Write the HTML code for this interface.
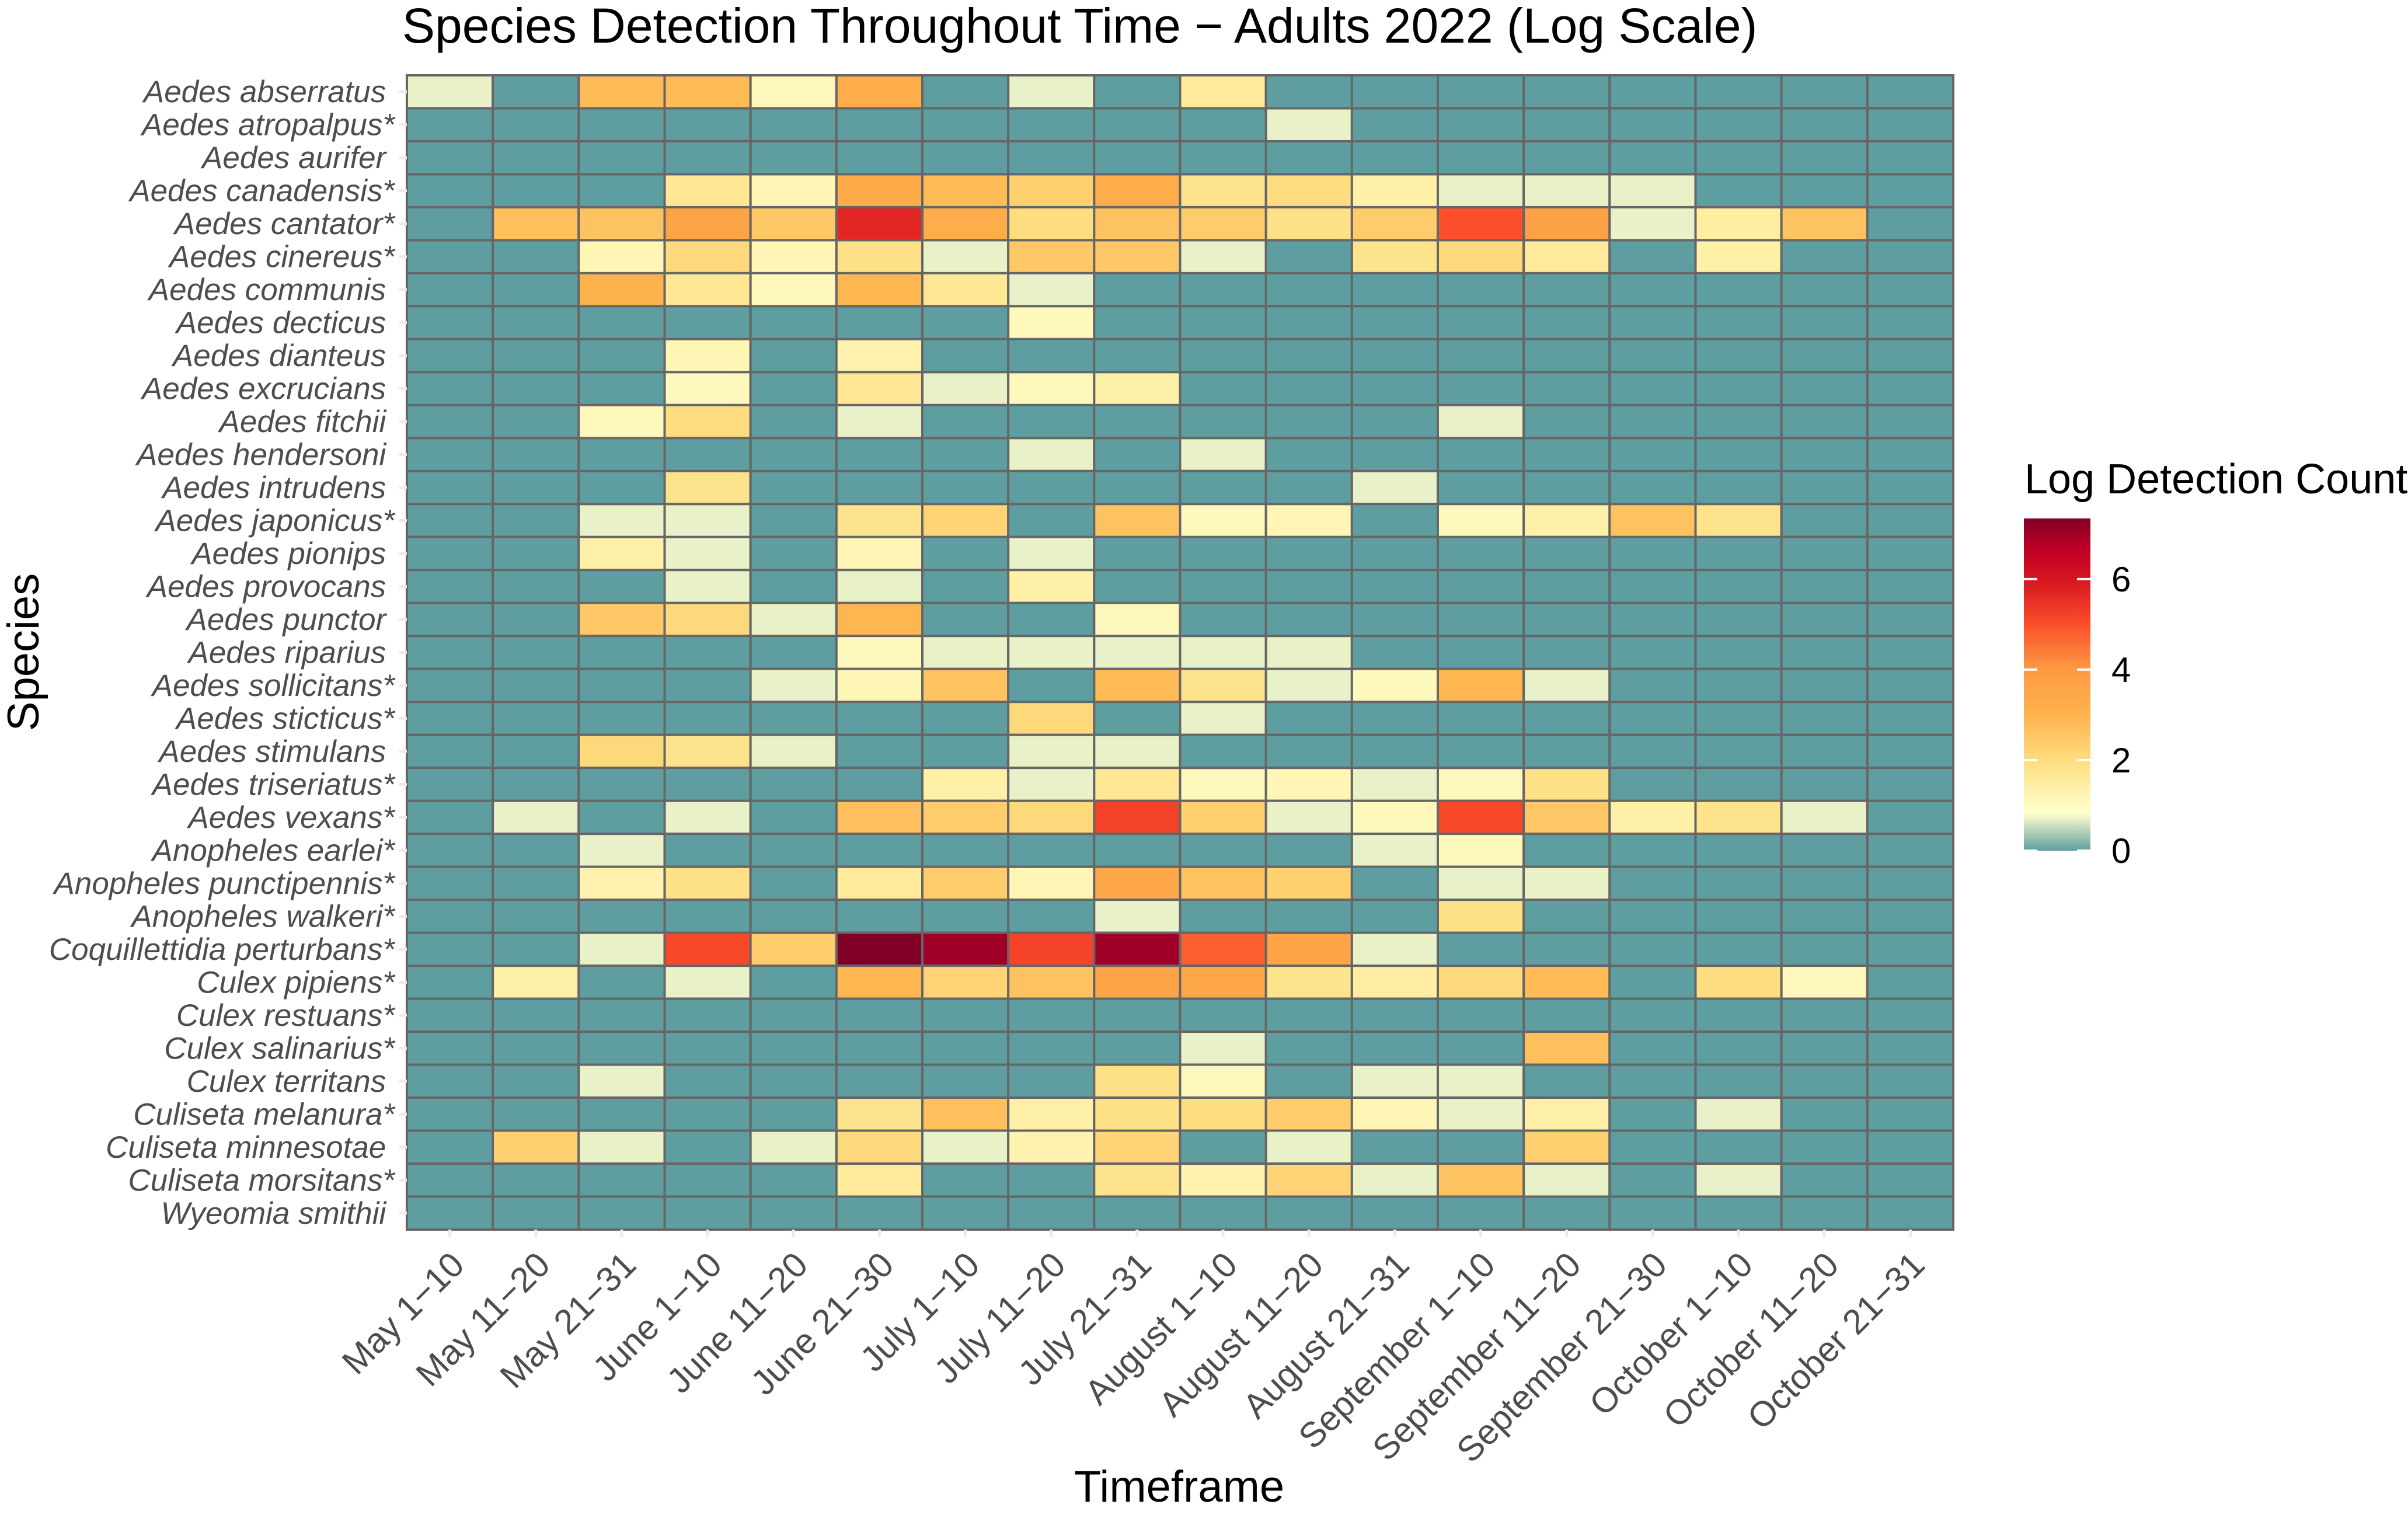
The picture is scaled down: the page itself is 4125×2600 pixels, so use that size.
<!DOCTYPE html>
<html><head><meta charset="utf-8"><style>
html,body{margin:0;padding:0;background:#fff;}
svg{display:block;font-family:"Liberation Sans",Arial,sans-serif;}
</style></head><body>
<svg id="chart" width="4125" height="2600" viewBox="0 0 4125 2600" xmlns="http://www.w3.org/2000/svg">
<rect width="4125" height="2600" fill="#fff"/>
<text x="689" y="73" font-size="84" fill="#000">Species Detection Throughout Time − Adults 2022 (Log Scale)</text>
<text x="2020" y="2572" font-size="76" text-anchor="middle" fill="#000">Timeframe</text>
<text transform="translate(66,1117) rotate(-90)" font-size="76" text-anchor="middle" fill="#000">Species</text>
<g id="cells"></g>
<g id="ylabels"></g>
<g id="xlabels"></g>
<g id="legend">
<text x="3468" y="845" font-size="72" fill="#000">Log Detection Count</text>
</g>
</svg>
<script>
const timeframes = ["May 1\u221210","May 11\u221220","May 21\u221231","June 1\u221210","June 11\u221220","June 21\u221230","July 1\u221210","July 11\u221220","July 21\u221231","August 1\u221210","August 11\u221220","August 21\u221231","September 1\u221210","September 11\u221220","September 21\u221230","October 1\u221210","October 11\u221220","October 21\u221231"];
const species = ["Aedes abserratus","Aedes atropalpus*","Aedes aurifer","Aedes canadensis*","Aedes cantator*","Aedes cinereus*","Aedes communis","Aedes decticus","Aedes dianteus","Aedes excrucians","Aedes fitchii","Aedes hendersoni","Aedes intrudens","Aedes japonicus*","Aedes pionips","Aedes provocans","Aedes punctor","Aedes riparius","Aedes sollicitans*","Aedes sticticus*","Aedes stimulans","Aedes triseriatus*","Aedes vexans*","Anopheles earlei*","Anopheles punctipennis*","Anopheles walkeri*","Coquillettidia perturbans*","Culex pipiens*","Culex restuans*","Culex salinarius*","Culex territans","Culiseta melanura*","Culiseta minnesotae","Culiseta morsitans*","Wyeomia smithii"];
const logCounts = [
[0.7,0,2.8,2.8,1.1,3.2,0,0.7,0,1.6,0,0,0,0,0,0,0,0],
[0,0,0,0,0,0,0,0,0,0,0.7,0,0,0,0,0,0,0],
[0,0,0,0,0,0,0,0,0,0,0,0,0,0,0,0,0,0],
[0,0,0,1.7,1.2,3.3,2.8,2.3,3.2,1.8,2.0,1.4,0.7,0.7,0.7,0,0,0],
[0,2.7,2.6,3.6,2.5,5.7,3.2,2.0,2.6,2.4,1.9,2.4,5.0,3.7,0.7,1.5,2.6,0],
[0,0,1.2,2.1,1.2,1.9,0.7,2.5,2.5,0.7,0,1.8,2.1,1.6,0,1.4,0,0],
[0,0,3.0,1.7,1.1,2.9,1.7,0.7,0,0,0,0,0,0,0,0,0,0],
[0,0,0,0,0,0,0,1.1,0,0,0,0,0,0,0,0,0,0],
[0,0,0,1.2,0,1.3,0,0,0,0,0,0,0,0,0,0,0,0],
[0,0,0,1.1,0,1.7,0.7,1.1,1.4,0,0,0,0,0,0,0,0,0],
[0,0,1.1,2.0,0,0.7,0,0,0,0,0,0,0.7,0,0,0,0,0],
[0,0,0,0,0,0,0,0.7,0,0.7,0,0,0,0,0,0,0,0],
[0,0,0,1.8,0,0,0,0,0,0,0,0.7,0,0,0,0,0,0],
[0,0,0.7,0.7,0,1.8,2.2,0,2.6,1.1,1.2,0,1.1,1.4,2.6,1.8,0,0],
[0,0,1.4,0.7,0,1.2,0,0.7,0,0,0,0,0,0,0,0,0,0],
[0,0,0,0.7,0,0.7,0,1.4,0,0,0,0,0,0,0,0,0,0],
[0,0,2.5,2.1,0.7,2.9,0,0,1.1,0,0,0,0,0,0,0,0,0],
[0,0,0,0,0,1.1,0.7,0.7,0.7,0.7,0.7,0,0,0,0,0,0,0],
[0,0,0,0,0.7,1.2,2.6,0,2.8,1.8,0.7,1.1,2.9,0.7,0,0,0,0],
[0,0,0,0,0,0,0,2.1,0,0.7,0,0,0,0,0,0,0,0],
[0,0,2.1,1.8,0.7,0,0,0.7,0.7,0,0,0,0,0,0,0,0,0],
[0,0,0,0,0,0,1.4,0.7,1.7,1.1,1.2,0.7,1.1,1.9,0,0,0,0],
[0,0.7,0,0.7,0,2.7,2.4,2.1,5.2,2.3,0.7,1.1,5.1,2.5,1.4,1.8,0.7,0],
[0,0,0.7,0,0,0,0,0,0,0,0,0.7,1.1,0,0,0,0,0],
[0,0,1.3,1.9,0,1.6,2.4,1.2,3.4,2.6,2.3,0,0.7,0.7,0,0,0,0],
[0,0,0,0,0,0,0,0,0.7,0,0,0,1.9,0,0,0,0,0],
[0,0,0.7,5.1,2.4,7.34,7.0,5.2,7.0,4.8,3.6,0.7,0,0,0,0,0,0],
[0,1.4,0,0.7,0,2.9,2.2,2.6,3.6,3.4,1.8,1.5,2.1,2.8,0,2.0,1.1,0],
[0,0,0,0,0,0,0,0,0,0,0,0,0,0,0,0,0,0],
[0,0,0,0,0,0,0,0,0,0.7,0,0,0,2.7,0,0,0,0],
[0,0,0.7,0,0,0,0,0,1.9,1.1,0,0.7,0.7,0,0,0,0,0],
[0,0,0,0,0,1.8,2.7,1.4,1.9,2.0,2.4,1.2,0.7,1.4,0,0.7,0,0],
[0,2.3,0.7,0,0.7,2.1,0.7,1.3,2.2,0,0.7,0,0,2.3,0,0,0,0],
[0,0,0,0,0,1.6,0,0,1.8,1.3,2.2,0.7,2.6,0.7,0,0.7,0,0],
[0,0,0,0,0,0,0,0,0,0,0,0,0,0,0,0,0,0]
];
const legendTicks = [0,2,4,6];
const legendMax = 7.34;

const NS="http://www.w3.org/2000/svg";
const stops=[[0,'#5F9EA0'],[0.69,'#E8F0C8'],[0.85,'#FFFFCC'],[1.4,'#FFF0A8'],[2,'#FEDD80'],[3,'#FEB24C'],[4,'#FD9A44'],[5,'#FB4F2B'],[6,'#D7141F'],[6.7,'#BD0026'],[7.34,'#800026']];
function hex(c){return [1,3,5].map(i=>parseInt(c.substr(i,2),16));}
function color(v){
  if(v<=stops[0][0])return stops[0][1];
  for(let i=1;i<stops.length;i++){
    if(v<=stops[i][0]){
      const t=(v-stops[i-1][0])/(stops[i][0]-stops[i-1][0]);
      const a=hex(stops[i-1][1]),b=hex(stops[i][1]);
      return 'rgb('+a.map((x,k)=>Math.round(x+(b[k]-x)*t)).join(',')+')';
    }
  }
  return stops[stops.length-1][1];
}
const L=697,R=3346,T=129,B=2106;
const cw=(R-L)/timeframes.length, rh=(B-T)/species.length;
function xPos(i){return L+i*cw;}
function yPos(j){return T+j*rh;}
function mk(tag,attrs,parent){const e=document.createElementNS(NS,tag);for(const k in attrs)e.setAttribute(k,attrs[k]);parent.appendChild(e);return e;}

const cells=document.getElementById('cells');
const yl=document.getElementById('ylabels');
const xl=document.getElementById('xlabels');
species.forEach((s,j)=>{
  const yc=yPos(j)+rh/2;
  const tk=mk('line',{x1:L-13,x2:L,y1:yc,y2:yc,stroke:'#EBEBEB','stroke-width':5},yl);
  
  
  const t=mk('text',{x:L-21,y:yc+18,'font-size':53,'font-style':'italic','text-anchor':'end',fill:'#4D4D4D'},yl);
  t.textContent=s.endsWith('*')?s:s+'\u00A0';
  
  
});
timeframes.forEach((f,i)=>{
  const xc=xPos(i)+cw/2;
  const tk=mk('line',{x1:xc,x2:xc,y1:B,y2:B+13,stroke:'#EBEBEB','stroke-width':5},xl);
  
  
  const t=mk('text',{transform:'translate('+(xc+28)+','+(B+64)+') rotate(-45)','font-size':60,'text-anchor':'end',fill:'#4D4D4D'},xl);
  t.textContent=f;
  
  
});
logCounts.forEach((row,j)=>{
  row.forEach((v,i)=>{
    const r=mk('rect',{x:xPos(i),y:yPos(j),width:cw,height:rh,fill:color(v),stroke:'#666666','stroke-width':4},cells);
    
    
  });
});

const lg=document.getElementById('legend');
const defs=mk('defs',{},lg);
const grad=mk('linearGradient',{id:'lgrad',x1:0,y1:1,x2:0,y2:0},defs);
stops.forEach(s=>{mk('stop',{offset:(s[0]/legendMax),'stop-color':s[1]},grad);});
const bx=3467,bw=114,by0=1457,bTop=888;
const perUnit=(by0-bTop)/legendMax;
const bar=mk('rect',{x:bx,y:bTop,width:bw,height:by0-bTop,fill:'url(#lgrad)'},lg);


legendTicks.forEach(v=>{
  const y=by0-v*perUnit;
  const a=mk('line',{x1:bx,x2:bx+23,y1:y,y2:y,stroke:'#fff','stroke-width':4},lg);
  
  
  const b=mk('line',{x1:bx+bw-23,x2:bx+bw,y1:y,y2:y,stroke:'#fff','stroke-width':4},lg);
  
  
  const t=mk('text',{x:3617,y:y+21,'font-size':60,fill:'#000'},lg);
  t.textContent=String(v);
  
  
});
</script>
</body></html>
